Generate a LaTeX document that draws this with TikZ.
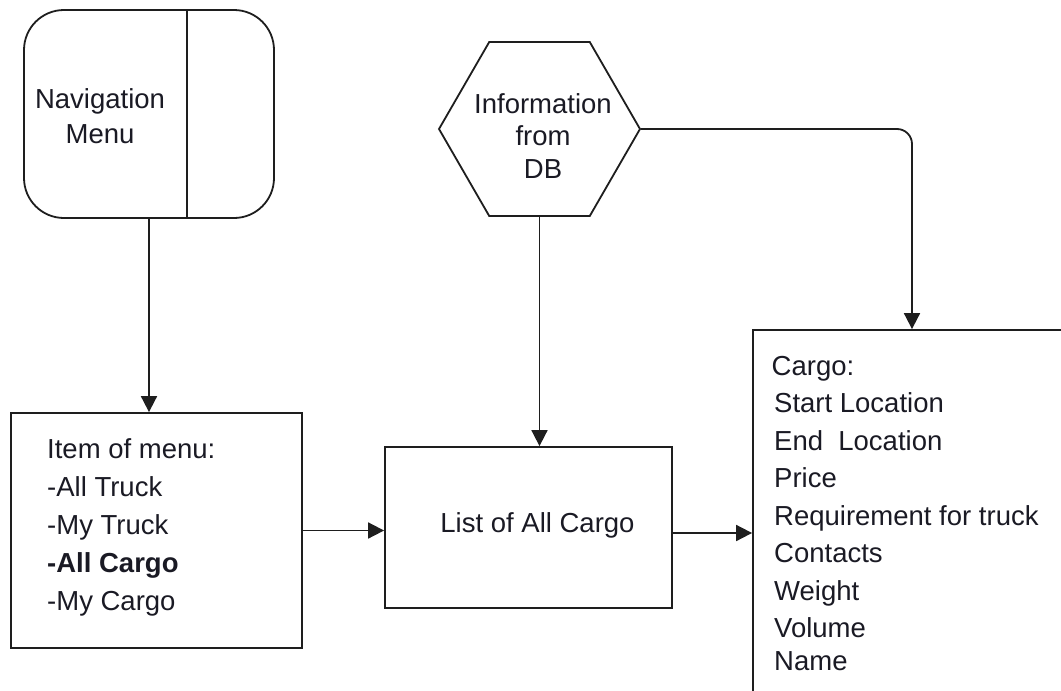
\documentclass[tikz,border=0pt]{standalone}
\usepackage{fontspec}
\setmainfont{Liberation Sans}
\usetikzlibrary{arrows.meta,shapes.geometric}
\definecolor{linecol}{HTML}{1E1E1E}
\definecolor{textcol}{HTML}{1A1A24}
\begin{document}
\begin{tikzpicture}[x=1pt,y=-1pt,
  every node/.style={font=\fontsize{27.5}{38}\selectfont, text=textcol},
  box/.style={draw=linecol, line width=1.8pt, inner sep=0pt, fill=white},
  txt/.style={inner sep=0pt},
  link/.style={draw=linecol, line width=1.8pt, -{Triangle[length=16pt,width=16pt]}},
  ]
  % page frame
  \clip (0,0) rectangle (1061,691);
  \fill[white] (0,0) rectangle (1061,691);

  % navigation menu block with its divider
  \node[box, rounded corners=40pt, minimum width=250pt, minimum height=208pt] (nav) at (149,114) {};
  \draw[linecol, line width=1.8pt] ([xshift=38pt]nav.north) -- ([xshift=38pt]nav.south);
  \node[txt, anchor=base, font=\fontsize{27.5}{35}\selectfont] (navtext) at (100,108)
    {\begin{tabular}[t]{@{}c@{}}Navigation\\Menu\end{tabular}};

  % data source
  \node[box, regular polygon, regular polygon sides=6, minimum size=201pt] (hex) at (539.5,129) {};
  \node[txt, anchor=base, font=\fontsize{27.5}{32.5}\selectfont] (hextext) at (543,113)
    {\begin{tabular}[t]{@{}c@{}}Information\\from\\DB\end{tabular}};

  % menu items
  \node[box, minimum width=291pt, minimum height=235pt] (item) at (156.5,530.5) {};
  \node[txt, anchor=base west] (itemtext) at (47,458)
    {\begin{tabular}[t]{@{}l@{}}Item of menu:\\-All Truck\\-My Truck\\\textbf{-All Cargo}\\-My Cargo\end{tabular}};

  % cargo list
  \node[box, minimum width=287pt, minimum height=161pt] (list) at (528.5,527.5) {};
  \node[txt, anchor=base] (listtext) at (537.5,532) {List of All Cargo};

  % cargo details
  \node[box, minimum width=318pt, minimum height=370pt] (cargo) at (912,515) {};
  \node[txt, anchor=base west, font=\fontsize{27.5}{37.5}\selectfont] (cargotext) at (774,375)
    {\begin{tabular}[t]{@{}l@{}}\hspace*{-2.5pt}Cargo:\\Start Location\\End\ \ Location\\Price\\Requirement for truck\\Contacts\\Weight\\Volume\\[-4.5pt]Name\end{tabular}};

  % connectors
  \draw[link] (nav.south) -- (nav.south |- item.north);
  \draw[link] (item.east) -- (item.east -| list.west);
  \draw[link] (hex.south) -- (hex.south |- list.north);
  \draw[link, rounded corners=15pt] (hex.east) -| (cargo.north);
  \draw[link] ([yshift=-5.5pt]list.east) -- ([yshift=-5.5pt]list.east -| cargo.west);
\end{tikzpicture}
\end{document}
